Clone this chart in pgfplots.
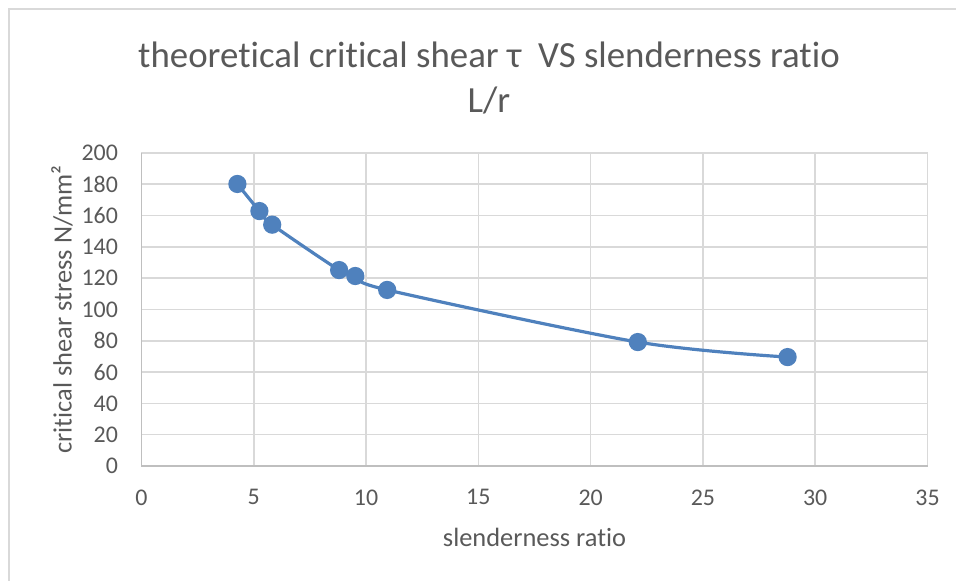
\documentclass[border=0pt]{standalone}
\usepackage{pgfplots}
\pgfplotsset{compat=1.18}
\usepackage{fontspec}
\setmainfont{Carlito}[RawFeature={-liga;-clig;-dlig}]
\definecolor{txt}{HTML}{595959}
\definecolor{gridc}{HTML}{D9D9D9}
\definecolor{axc}{HTML}{BFBFBF}
\definecolor{ser}{HTML}{4F81BD}
\begin{document}
\begin{tikzpicture}[x=1bp,y=1bp]
\useasboundingbox (-141.5,-115) rectangle (814.5,466);
\draw[gridc, line width=2bp] (-132.5,-130) -- (-132.5,457) -- (830,457);
\begin{axis}[
  at={(0,0)}, anchor=south west,
  width=786bp, height=313bp, scale only axis,
  xmin=0, xmax=35, ymin=0, ymax=200,
  xtick={0,5,...,35}, ytick={0,20,...,200},
  grid=major,
  major grid style={gridc, line width=1.6bp},
  axis line style={axc, line width=1.6bp},
  axis x line*=bottom, axis y line*=left,
  x axis line style={-}, y axis line style={-},
  tick style={draw=none},
  ticklabel style={font=\fontsize{24}{28}\selectfont, text=txt},
  /pgf/number format/assume math mode=true,
  xticklabel style={yshift=-20bp},
  yticklabel style={xshift=-20bp},
  xlabel={slenderness ratio},
  ylabel={critical shear stress N/mm²},
  label style={font=\fontsize{26.5}{30}\selectfont, text=txt},
  xlabel style={at={(axis description cs:0.5,-0.2268)}, anchor=center},
  ylabel style={at={(axis description cs:-0.1011,0.5)}, anchor=center},
  clip=false,
]
\addplot[ser, line width=3.2bp, smooth, tension=0.5, mark=*, mark size=7.5bp, mark options={fill=ser, draw=ser}]
coordinates {
(4.27,180.2) (5.25,162.9) (5.82,154.2) (8.80,125.2) (9.52,121.4) (10.94,112.5) (22.1,79.2) (28.77,69.6)
};
\end{axis}
\node[text=txt, font=\fontsize{37}{42}\selectfont] at (347.5,411) {theoretical critical shear τ \ VS slenderness ratio};
\node[text=txt, font=\fontsize{37}{42}\selectfont] at (347.5,366) {L/r};
\end{tikzpicture}
\end{document}
